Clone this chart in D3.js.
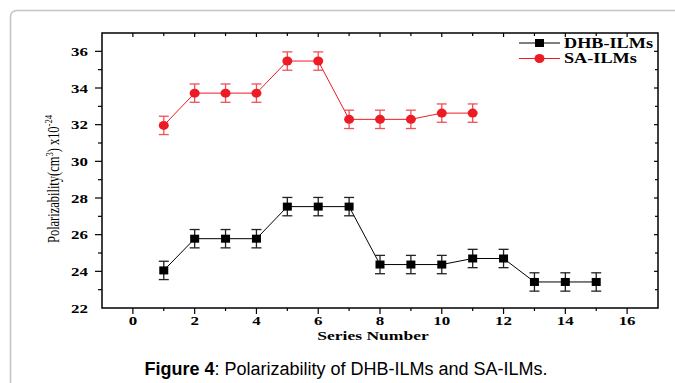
<!DOCTYPE html>
<html>
<head>
<meta charset="utf-8">
<script src="https://cdn.jsdelivr.net/npm/d3@7"></script>
<style>
  body { margin: 0; background: #fff; }
  svg { display: block; }
  .tick-label { font-family: "Liberation Serif", "Times New Roman", serif; font-weight: bold; font-size: 13px; }
  .caption { font-family: "Liberation Sans", Arial, sans-serif; font-size: 18px; }
</style>
</head>
<body>
<svg id="chart"></svg>
<script>
var width = 675,
    height = 383;

// data
var seriesNumbers = [1, 2, 3, 4, 5, 6, 7, 8, 9, 10, 11, 12, 13, 14, 15];
var dhbValues = [24.05, 25.78, 25.78, 25.78, 27.53, 27.53, 27.53, 24.37, 24.37, 24.37, 24.70, 24.70, 23.42, 23.42, 23.42];
var saValues = [31.96, 33.72, 33.72, 33.72, 35.47, 35.47, 32.29, 32.29, 32.29, 32.63, 32.63];
var dhbError = 0.5;
var saError = 0.5;
var xTicks = [0, 2, 4, 6, 8, 10, 12, 14, 16];
var yTicks = [22, 24, 26, 28, 30, 32, 34, 36];

var margin = {left: 102, right: 17, top: 33, bottom: 75};

var x = d3.scaleLinear()
          .domain([-1, 17])
          .range([margin.left, width - margin.right]);
var y = d3.scaleLinear()
          .domain([22, 37])
          .range([height - margin.bottom, margin.top]);

var svg = d3.select("#chart")
            .attr("width", width)
            .attr("height", height);

// card border
svg.append("rect")
   .attr("x", 10.5).attr("y", 10.5)
   .attr("width", 700).attr("height", 420)
   .attr("rx", 6)
   .attr("fill", "none")
   .attr("stroke", "#c4c4c4")
   .attr("stroke-width", 1.5);

// stretch serif text sideways like the original
var stretch = function(sel, k) {
  sel.each(function() {
    var len = this.getComputedTextLength();
    d3.select(this).attr("textLength", len * k).attr("lengthAdjust", "spacingAndGlyphs");
  });
};

var x0 = x.range()[0], x1 = x.range()[1], y0 = y.range()[0], y1 = y.range()[1];

// ticks
var xMinor = d3.range(0, 17, 1);
var yMinor = d3.range(23, 37, 1);

// bottom ticks (outward)
svg.selectAll("line.xb")
   .data(xMinor)
   .enter().append("line")
     .attr("x1", function(d) { return x(d); })
     .attr("x2", function(d) { return x(d); })
     .attr("y1", y0)
     .attr("y2", function(d) { return y0 + (d % 2 == 0 ? 6 : 3); })
     .attr("stroke", "#000").attr("stroke-width", 1.2);
// top ticks (inward)
svg.selectAll("line.xt")
   .data(xMinor)
   .enter().append("line")
     .attr("x1", function(d) { return x(d); })
     .attr("x2", function(d) { return x(d); })
     .attr("y1", y1)
     .attr("y2", function(d) { return y1 + (d % 2 == 0 ? 4 : 3); })
     .attr("stroke", "#000").attr("stroke-width", 1.2);
// left ticks (outward)
svg.selectAll("line.yl")
   .data(yMinor)
   .enter().append("line")
     .attr("x1", x0)
     .attr("x2", function(d) { return x0 - (d % 2 == 0 ? 7 : 4); })
     .attr("y1", function(d) { return y(d); })
     .attr("y2", function(d) { return y(d); })
     .attr("stroke", "#000").attr("stroke-width", 1.2);
// right ticks (inward)
svg.selectAll("line.yr")
   .data(yMinor)
   .enter().append("line")
     .attr("x1", x1)
     .attr("x2", function(d) { return x1 - (d % 2 == 0 ? 4 : 3); })
     .attr("y1", function(d) { return y(d); })
     .attr("y2", function(d) { return y(d); })
     .attr("stroke", "#000").attr("stroke-width", 1.2);

// frame
svg.append("rect")
   .attr("x", x0).attr("y", y1)
   .attr("width", x1 - x0).attr("height", y0 - y1)
   .attr("fill", "none")
   .attr("stroke", "#000")
   .attr("stroke-width", 1.5);

// tick labels
svg.selectAll("text.xl")
   .data(xTicks)
   .enter().append("text")
     .attr("class", "tick-label")
     .attr("x", function(d) { return x(d); })
     .attr("y", y0 + 17)
     .attr("text-anchor", "middle")
     .text(function(d) { return d; })
     .call(stretch, 1.3);

svg.selectAll("text.yl")
   .data(yTicks)
   .enter().append("text")
     .attr("class", "tick-label")
     .attr("x", x0 - 14)
     .attr("y", function(d) { return y(d) + 4.5; })
     .attr("text-anchor", "end")
     .text(function(d) { return d; })
     .call(stretch, 1.3);

// axis titles
svg.append("text")
   .attr("class", "tick-label")
   .attr("x", 373).attr("y", 340)
   .attr("text-anchor", "middle")
   .text("Series Number")
   .call(stretch, 1.35);

var yt = svg.append("text")
   .attr("transform", "translate(59,179) rotate(-90)")
   .attr("text-anchor", "middle")
   .style("font-family", "'Liberation Serif', 'Times New Roman', serif")
   .style("font-size", "16px");
yt.append("tspan").text("Polarizability(cm");
yt.append("tspan").attr("dy", -6).style("font-size", "11px").text("3");
yt.append("tspan").attr("dy", 6).text(") x10");
yt.append("tspan").attr("dy", -7).style("font-size", "11px").text("-24");
yt.attr("textLength", 128).attr("lengthAdjust", "spacingAndGlyphs");

// series drawing
var drawSeries = function(values, err, color, errColor, shape) {
  var pts = values.map(function(v, i) { return {n: seriesNumbers[i], v: v}; });
  var line = d3.line()
               .x(function(d) { return x(d.n); })
               .y(function(d) { return y(d.v); });
  var g = svg.append("g");
  g.append("path")
   .datum(pts)
   .attr("d", line)
   .attr("fill", "none")
   .attr("stroke", color)
   .attr("stroke-width", 1);

  var eb = g.selectAll("g.err")
            .data(pts)
            .enter().append("g")
              .attr("stroke", errColor)
              .attr("stroke-width", 1.3);
  eb.append("line")
    .attr("x1", function(d) { return x(d.n); })
    .attr("x2", function(d) { return x(d.n); })
    .attr("y1", function(d) { return y(d.v + err); })
    .attr("y2", function(d) { return y(d.v - err); });
  eb.append("line")
    .attr("x1", function(d) { return x(d.n) - 5; })
    .attr("x2", function(d) { return x(d.n) + 5; })
    .attr("y1", function(d) { return y(d.v + err); })
    .attr("y2", function(d) { return y(d.v + err); });
  eb.append("line")
    .attr("x1", function(d) { return x(d.n) - 5; })
    .attr("x2", function(d) { return x(d.n) + 5; })
    .attr("y1", function(d) { return y(d.v - err); })
    .attr("y2", function(d) { return y(d.v - err); });

  if (shape == "square") {
    g.selectAll("rect.m")
     .data(pts)
     .enter().append("rect")
       .attr("x", function(d) { return x(d.n) - 4.5; })
       .attr("y", function(d) { return y(d.v) - 4; })
       .attr("width", 9).attr("height", 8)
       .attr("fill", color);
  } else {
    g.selectAll("ellipse.m")
     .data(pts)
     .enter().append("ellipse")
       .attr("cx", function(d) { return x(d.n); })
       .attr("cy", function(d) { return y(d.v); })
       .attr("rx", 5).attr("ry", 4.5)
       .attr("fill", color);
  }
};

drawSeries(dhbValues, dhbError, "#000", "#222", "square");
drawSeries(saValues, saError, "#ed1c24", "#f0505a", "circle");

// legend
var legend = [
  {name: "DHB-ILMs", color: "#000", shape: "square"},
  {name: "SA-ILMs", color: "#ed1c24", shape: "circle"}
];
var lg = svg.selectAll("g.legend")
            .data(legend)
            .enter().append("g")
              .attr("transform", function(d, i) { return "translate(519," + (43 + i * 15.5) + ")"; });
lg.append("line")
  .attr("x1", 0).attr("x2", 41)
  .attr("stroke", function(d) { return d.color; })
  .attr("stroke-width", 1);
lg.filter(function(d) { return d.shape == "square"; })
  .append("rect")
  .attr("x", -4.5 + 20.5).attr("y", -4).attr("width", 9).attr("height", 8)
  .attr("fill", function(d) { return d.color; });
lg.filter(function(d) { return d.shape == "circle"; })
  .append("ellipse")
  .attr("cx", 20.5).attr("rx", 5).attr("ry", 4.5)
  .attr("fill", function(d) { return d.color; });
lg.append("text")
  .attr("class", "tick-label")
  .style("font-size", "14px")
  .attr("x", 45).attr("y", 4.5)
  .text(function(d) { return d.name; })
  .call(stretch, 1.3);

// caption
var cap = svg.append("text")
   .attr("class", "caption")
   .attr("x", 346).attr("y", 375)
   .attr("text-anchor", "middle");
cap.append("tspan").style("font-weight", "bold").text("Figure 4");
cap.append("tspan").text(": Polarizability of DHB-ILMs and SA-ILMs.");
</script>
</body>
</html>
